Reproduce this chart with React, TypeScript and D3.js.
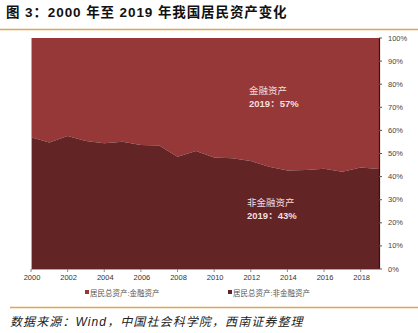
import React from "react";
import * as d3 from "d3";

const years = [2000, 2001, 2002, 2003, 2004, 2005, 2006, 2007, 2008, 2009, 2010, 2011, 2012, 2013, 2014, 2015, 2016, 2017, 2018, 2019];
const nonFinancial = [57.0, 54.8, 57.6, 55.4, 54.4, 55.1, 53.7, 53.5, 48.6, 51.1, 48.3, 47.9, 46.8, 44.3, 42.6, 42.9, 43.4, 42.1, 43.9, 43.3];
const financial = nonFinancial.map((v) => 100 - v);
const yTicks = [0, 10, 20, 30, 40, 50, 60, 70, 80, 90, 100];
const xTicks = [2000, 2002, 2004, 2006, 2008, 2010, 2012, 2014, 2016, 2018];
const seriesNames = ["居民总资产:金融资产", "居民总资产:非金融资产"];
const colors = ["#963838", "#632426"];

export default function App() {
  const W = 418, H = 333;
  const left = 31, right = 379, top = 38, bottom = 269;
  const x = d3.scaleLinear().domain([2000, 2019]).range([left, right]);
  const y = d3.scaleLinear().domain([0, 100]).range([bottom, top]);
  const rows = years.map((yr, i) => ({ year: yr, nf: nonFinancial[i], f: financial[i] }));
  const stack = d3.stack<any>().keys(["nf", "f"])(rows);
  const area = d3.area<any>().x((d) => x(d.data.year)).y0((d) => y(d[0])).y1((d) => y(d[1]));
  const font = "'Liberation Sans', Arial, 'Noto Sans CJK SC', sans-serif";
  return (
    <svg width={W} height={H} style={{ position: "absolute", left: 0, top: 0, background: "#fff" }}>
      <text x={6} y={17} fontSize={13.5} fontWeight="bold" fill="#111" letterSpacing={0.9} fontFamily={font}>图 3：2000 年至 2019 年我国居民资产变化</text>
      <line x1={0} x2={418} y1={29.5} y2={29.5} stroke="#e0a455" strokeWidth={1.5} />
      <path d={area(stack[1] as any) || ""} fill={colors[0]} />
      <path d={area(stack[0] as any) || ""} fill={colors[1]} />
      <line x1={left} x2={right} y1={bottom + 0.5} y2={bottom + 0.5} stroke="#aaa" />
      <line x1={left + 0.5} x2={left + 0.5} y1={top} y2={bottom} stroke="#c9a0a0" strokeWidth={1} />
      {xTicks.map((t) => (
        <g key={t}>
          <line x1={x(t)} x2={x(t)} y1={bottom} y2={bottom + 3} stroke="#888" />
          <text x={x(t) + 1} y={bottom + 11} fontSize={7.5} textAnchor="middle" fill="#333" fontFamily={font}>{t}</text>
        </g>
      ))}
      <line x1={right + 0.5} x2={right + 0.5} y1={top} y2={bottom} stroke="#3a1010" strokeWidth={1.2} />
      {yTicks.map((t) => (
        <g key={t}>
          <line x1={right} x2={right + 3} y1={y(t)} y2={y(t)} stroke="#555" />
          <text x={388} y={y(t) + 2.5} fontSize={7.5} fill="#444" fontFamily={font}>{t}%</text>
        </g>
      ))}
      <text x={249} y={94} fontSize={9.5} fill="#f3dede" fontFamily="'Noto Sans CJK SC', sans-serif">金融资产</text>
      <text x={249} y={107} fontSize={9.5} fill="#f3dede" fontWeight="bold" fontFamily={font}>2019：57%</text>
      <text x={247} y={206} fontSize={9.5} fill="#f3dede" fontFamily="'Noto Sans CJK SC', sans-serif">非金融资产</text>
      <text x={247} y={219} fontSize={9.5} fill="#f3dede" fontWeight="bold" fontFamily={font}>2019：43%</text>
      {seriesNames.map((s, i) => (
        <g key={s}>
          <rect x={i === 0 ? 85 : 228} y={290} width={4} height={4} fill={colors[i]} />
          <text x={i === 0 ? 90 : 233} y={295.5} fontSize={7.5} fill="#555" fontFamily={font}>{s}</text>
        </g>
      ))}
      <line x1={10} x2={418} y1={307.5} y2={307.5} stroke="#e0a455" strokeWidth={1.5} />
      <text x={10} y={326} fontSize={12} fontStyle="italic" fill="#222" letterSpacing={1.1} fontFamily={font}>数据来源：Wind，中国社会科学院，西南证券整理</text>
    </svg>
  );
}
